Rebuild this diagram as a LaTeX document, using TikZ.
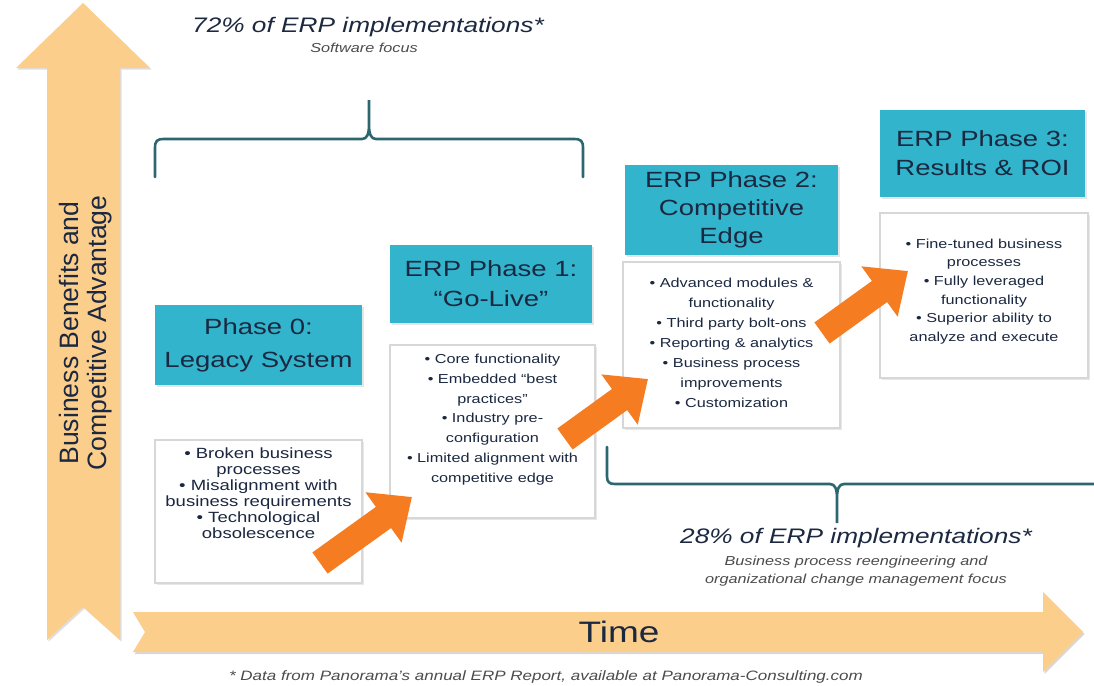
\documentclass[tikz,border=0pt]{standalone}
\usepackage{fontspec}
\setmainfont{Liberation Sans}
\newfontfamily\widefont[FakeStretch=1.25]{Liberation Sans}
\usetikzlibrary{arrows.meta,shadows}

\definecolor{peach}{RGB}{252,206,140}
\definecolor{phaseblue}{RGB}{49,180,204}
\definecolor{bracegreen}{RGB}{44,102,110}
\definecolor{erporange}{RGB}{245,124,32}
\definecolor{navytext}{RGB}{27,40,64}
\definecolor{boxline}{RGB}{215,215,215}

\begin{document}
\begin{tikzpicture}[x=0.5pt,y=-0.5pt,
    headbox/.style={fill=phaseblue, inner sep=0pt, align=center, text=navytext,
        font=\widefont\fontsize{11}{#1}\selectfont,
        drop shadow={shadow xshift=1pt,shadow yshift=-1pt,opacity=0.2}},
    bodybox/.style={fill=white, draw=boxline, line width=0.6pt, inner sep=0pt,
        drop shadow={shadow xshift=1.2pt,shadow yshift=-1.2pt,opacity=0.18}},
    bodytext/.style={align=center, text=navytext, font=\widefont\fontsize{6.5}{#1}\selectfont},
    stattext/.style={text=navytext, font=\widefont\itshape\fontsize{10.5}{12}\selectfont},
    subtext/.style={align=center, text=black!70, font=\widefont\itshape\fontsize{6.5}{9}\selectfont},
    blockarrow/.style={erporange, line width=13pt, -{Triangle[length=0pt 1.35, width=0pt 2.3]}},
    bracket/.style={draw=bracegreen, line width=1.3pt, line cap=round}]
        \fill [white] (0,0) rectangle (1094,686);
        \useasboundingbox (0,0) rectangle (1094,686);
        % axes
        \fill [peach, drop shadow={shadow xshift=0.8pt,shadow yshift=-0.8pt,opacity=0.25}]
            (83,3) -- (150,68) -- (120,68) -- (120,640) -- (83,607) -- (47,640) -- (47,68) -- (16,68) -- cycle;
        \fill [peach, drop shadow={shadow xshift=0.8pt,shadow yshift=-1pt,opacity=0.3}]
            (133,612) -- (1043,612) -- (1043,592) -- (1083,632) -- (1043,672) -- (1043,652) -- (133,652) -- (145,632) -- cycle;
        \node [rotate=90, align=center, text=navytext, font=\fontsize{13.3}{14}\selectfont] (benefits) at (86,333)
            {Business Benefits and\\Competitive Advantage};
        \node [text=navytext, font=\widefont\fontsize{14.8}{16}\selectfont] (time) at (619,632) {Time};
        % braces
        \draw [bracket] (155,177) -- (155,148) .. controls (155,141) and (157,139) .. (164,139) -- (362,139)
            .. controls (367,139) and (369,134) .. (369,125) -- (369,100) -- (369,125)
            .. controls (369,134) and (371,139) .. (376,139) -- (574,139)
            .. controls (581,139) and (583,141) .. (583,148) -- (583,177);
        \draw [bracket] (607,447) -- (607,476) .. controls (607,482) and (609,484) .. (615,484) -- (830,484)
            .. controls (835,484) and (837,489) .. (837,498) -- (837,523) -- (837,498)
            .. controls (837,489) and (839,484) .. (844,484) -- (1094,484);
        \node [stattext] (softstat) at (368,27) {72\% of ERP implementations*};
        \node [subtext] (softfocus) at (364,48) {Software focus};
        \node [stattext] (bpstat) at (856,538) {28\% of ERP implementations*};
        \node [subtext] (bpfocus) at (856,571) {Business process reengineering and\\organizational change management focus};
        % phase headers
        \node [headbox=16.5, minimum width=103.5pt, minimum height=40pt] (p0head) at (258.5,345) {Phase 0:\\Legacy System};
        \node [headbox=15, minimum width=101pt, minimum height=39pt] (p1head) at (491,284) {ERP Phase 1:\\“Go-Live”};
        \node [headbox=14, minimum width=106.5pt, minimum height=45pt] (p2head) at (731.5,210) {ERP Phase 2:\\Competitive\\Edge};
        \node [headbox=14.5, minimum width=102.5pt, minimum height=43.5pt] (p3head) at (982.5,153.5) {ERP Phase 3:\\Results \& ROI};
        % phase contents
        \node [bodybox, minimum width=103.5pt, minimum height=71.5pt] (p0box) at (258.5,511.5) {};
        \node [bodytext=8, font=\widefont\fontsize{7.4}{8}\selectfont] (p0text) at (258.5,493)
            {• Broken business\\processes\\• Misalignment with\\business requirements\\• Technological\\obsolescence};
        \node [bodybox, minimum width=102.5pt, minimum height=86.5pt] (p1box) at (492.5,431.5) {};
        \node [bodytext=9.9] (p1text) at (492.5,419.5)
            {• Core functionality\\• Embedded “best\\practices”\\• Industry pre-\\configuration\\• Limited alignment with\\competitive edge};
        \node [bodybox, minimum width=108.5pt, minimum height=83pt] (p2box) at (731.5,345) {};
        \node [bodytext=10] (p2text) at (731.5,343)
            {• Advanced modules \&\\functionality\\• Third party bolt-ons\\• Reporting \& analytics\\• Business process\\improvements\\• Customization};
        \node [bodybox, minimum width=104pt, minimum height=82.5pt] (p3box) at (984,295.5) {};
        \node [bodytext=9.3] (p3text) at (984,291.5)
            {• Fine-tuned business\\processes\\• Fully leveraged\\functionality\\• Superior ability to\\analyze and execute};
        % orange arrows
        \coordinate (a1tail) at (320,563);
        \coordinate (a1tip) at (412,497);
        \coordinate (a2tail) at (565,439);
        \coordinate (a2tip) at (648,379);
        \coordinate (a3tail) at (822,333);
        \coordinate (a3tip) at (908,271);
        \draw [blockarrow] (a1tail) -- (a1tip);
        \draw [blockarrow] (a2tail) -- (a2tip);
        \draw [blockarrow] (a3tail) -- (a3tip);
        \node [text=black!70, font=\widefont\itshape\fontsize{6.8}{8}\selectfont] (footnote) at (546,677)
            {* Data from Panorama’s annual ERP Report, available at Panorama-Consulting.com};
    \end{tikzpicture}
\end{document}
